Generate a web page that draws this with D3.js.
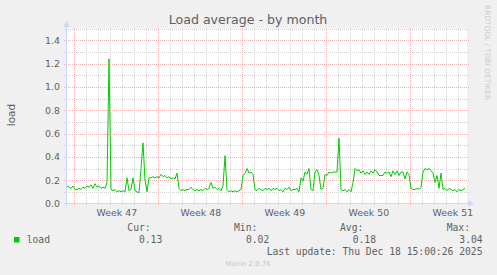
<!DOCTYPE html>
<html>
<head>
<meta charset="utf-8">
<script src="https://cdn.jsdelivr.net/npm/d3@7"></script>
<style>
  body { margin: 0; background: #f0f0f0; }
  text { font-family: "DejaVu Sans", sans-serif; fill: #606060; }
  .mono { font-family: "DejaVu Sans Mono", monospace; font-size: 9.7px; }
</style>
</head>
<body>
<div class="container"></div>
<script>
var w = 497;
var h = 275;

// load average, one sample every 4 hours
var load = [
  0.15, 0.14, 0.13, 0.15, 0.12, 0.12, 0.13, 0.12, 0.14, 0.13,
  0.15, 0.14, 0.16, 0.13, 0.17, 0.14, 0.15, 0.13, 0.14, 0.13,
  0.18, 1.24, 0.12, 0.11, 0.12, 0.10, 0.11, 0.10, 0.11, 0.10,
  0.22, 0.11, 0.12, 0.22, 0.11, 0.10, 0.09, 0.30, 0.52, 0.20,
  0.10, 0.22, 0.22, 0.23, 0.22, 0.23, 0.22, 0.25, 0.23, 0.24,
  0.22, 0.23, 0.21, 0.22, 0.21, 0.26, 0.13, 0.11, 0.12, 0.11,
  0.12, 0.12, 0.14, 0.12, 0.11, 0.12, 0.11, 0.12, 0.11, 0.13,
  0.12, 0.13, 0.18, 0.13, 0.14, 0.12, 0.13, 0.11, 0.15, 0.41,
  0.12, 0.10, 0.11, 0.10, 0.11, 0.10, 0.11, 0.12, 0.24, 0.26,
  0.30, 0.26, 0.27, 0.25, 0.12, 0.11, 0.13, 0.12, 0.11, 0.13,
  0.12, 0.13, 0.11, 0.13, 0.12, 0.13, 0.11, 0.12, 0.10, 0.13,
  0.12, 0.14, 0.11, 0.12, 0.12, 0.13, 0.10, 0.22, 0.19, 0.27,
  0.25, 0.30, 0.12, 0.11, 0.27, 0.29, 0.24, 0.12, 0.13, 0.25,
  0.24, 0.27, 0.26, 0.27, 0.27, 0.27, 0.56, 0.12, 0.11, 0.12,
  0.10, 0.12, 0.10, 0.18, 0.30, 0.28, 0.29, 0.26, 0.28, 0.25,
  0.27, 0.25, 0.28, 0.26, 0.29, 0.27, 0.24, 0.24, 0.24, 0.27,
  0.26, 0.27, 0.23, 0.28, 0.25, 0.28, 0.24, 0.27, 0.27, 0.21,
  0.27, 0.25, 0.13, 0.12, 0.12, 0.13, 0.12, 0.14, 0.27, 0.30,
  0.29, 0.30, 0.28, 0.26, 0.18, 0.24, 0.13, 0.26, 0.12, 0.13,
  0.11, 0.13, 0.12, 0.11, 0.12, 0.10, 0.12, 0.11, 0.12, 0.13
];
var yTicks = [0, 0.2, 0.4, 0.6, 0.8, 1.0, 1.2, 1.4];
var yMinor = [0.1, 0.3, 0.5, 0.7, 0.9, 1.1, 1.3, 1.5];
var weekLabels = ["Week 47", "Week 48", "Week 49", "Week 50", "Week 51"];
var legendHeads = ["Cur:", "Min:", "Avg:", "Max:"];
var legendValues = ["0.13", "0.02", "0.18", "3.04"];

var hour = 3600 * 1000;
var start = Date.UTC(2025, 10, 15, 9, 20);
var step = 4 * hour;
var end = start + 800 * hour;

var canvas = d3.select(".container").append("svg")
  .attr("width", w)
  .attr("height", h);

var x = d3.scaleUtc().domain([new Date(start), new Date(end)]).range([67, 467]);
var y = d3.scaleLinear().domain([0, 1.5]).range([203.5, 28.5]);

// plot area
canvas.append("rect")
  .attr("x", 67).attr("y", 28.5)
  .attr("width", 400).attr("height", 175)
  .attr("fill", "#fff");

var days = d3.utcDay.range(new Date(start), new Date(end));
var weeks = d3.utcSunday.range(new Date(start), new Date(end));
var px = (v) => Math.round(v) + 0.5;

//minor grid
var grid = canvas.append("g")
  .attr("stroke-dasharray", "1,1")
  .attr("shape-rendering", "crispEdges");

grid.selectAll(".vmin").data(days.filter((d) => d.getUTCDay() != 0)).enter().append("line")
  .attr("x1", (d) => px(x(d))).attr("x2", (d) => px(x(d)))
  .attr("y1", 28).attr("y2", 206)
  .attr("stroke", "#d2d2d2");

grid.selectAll(".hmin").data(yMinor).enter().append("line")
  .attr("x1", 64).attr("x2", 469)
  .attr("y1", (d) => px(y(d))).attr("y2", (d) => px(y(d)))
  .attr("stroke", "#d2d2d2");

//major grid
grid.selectAll(".vmaj").data(weeks).enter().append("line")
  .attr("x1", (d) => px(x(d))).attr("x2", (d) => px(x(d)))
  .attr("y1", 28).attr("y2", 206)
  .attr("stroke", "#eeb0b0");

grid.selectAll(".hmaj").data(yTicks.slice(1)).enter().append("line")
  .attr("x1", 64).attr("x2", 469)
  .attr("y1", (d) => px(y(d))).attr("y2", (d) => px(y(d)))
  .attr("stroke", "#eeb0b0");

// axes lines and arrows
var axisColor = "#cfd6f8";
canvas.append("line")
  .attr("x1", 64).attr("x2", 470).attr("y1", 203.5).attr("y2", 203.5)
  .attr("stroke", axisColor);
canvas.append("line")
  .attr("x1", 66.5).attr("x2", 66.5).attr("y1", 206).attr("y2", 25)
  .attr("stroke", axisColor);
canvas.append("path")
  .attr("d", "M468,200.5L474,203.5L468,206.5Z")
  .attr("fill", axisColor);
canvas.append("path")
  .attr("d", "M63.5,27L66.5,21L69.5,27Z")
  .attr("fill", axisColor);

// data line
var line = d3.line()
  .x((d, i) => x(new Date(start + i * step)))
  .y((d) => y(d));

canvas.append("path")
  .datum(load)
  .attr("d", line)
  .attr("fill", "none")
  .attr("stroke", "#00cc00")
  .attr("stroke-width", 1);

// tick labels
var yAxis = canvas.append("g")
  .attr("transform", "translate(67,0)")
  .call(d3.axisLeft(y).tickValues(yTicks).tickFormat(d3.format(".1f")).tickSize(0).tickPadding(7));

var mids = weeks.map((d) => new Date(+d + 3.5 * 24 * hour));
var xAxis = canvas.append("g")
  .attr("transform", "translate(0,203.5)")
  .call(d3.axisBottom(x).tickValues(mids).tickFormat((d, i) => weekLabels[i]).tickSize(0).tickPadding(6));

[yAxis, xAxis].forEach((g) => {
  g.select(".domain").remove();
  g.selectAll("text")
    .attr("fill", "#606060")
    .style("font-family", "DejaVu Sans")
    .style("font-size", "9.4px");
});

// title and labels
canvas.append("text")
  .attr("x", 248).attr("y", 23.5)
  .attr("text-anchor", "middle")
  .style("font-size", "12.6px")
  .text("Load average - by month");

canvas.append("text")
  .attr("transform", "translate(14.5,115) rotate(-90)")
  .attr("text-anchor", "middle")
  .style("font-size", "10.5px")
  .text("load");

canvas.append("text")
  .attr("transform", "translate(485,5) rotate(90)")
  .style("font-size", "7.4px")
  .style("fill", "#cccccc")
  .text("RRDTOOL / TOBI OETIKER");

// legend
canvas.append("rect")
  .attr("x", 14).attr("y", 237).attr("width", 5.5).attr("height", 5.5)
  .attr("fill", "#00cc00");

canvas.append("text").attr("class", "mono")
  .attr("x", 26.7).attr("y", 243.3)
  .text("load");

var headX = [127.3, 234, 340, 446.7];
var valX = [162.3, 269.3, 376, 482.7];

canvas.selectAll(".head").data(legendHeads).enter().append("text")
  .attr("class", "mono")
  .attr("x", (d, i) => headX[i]).attr("y", 231)
  .text((d) => d);

canvas.selectAll(".val").data(legendValues).enter().append("text")
  .attr("class", "mono")
  .attr("x", (d, i) => valX[i]).attr("y", 243.3)
  .attr("text-anchor", "end")
  .text((d) => d);

canvas.append("text").attr("class", "mono")
  .attr("x", 482.5).attr("y", 255)
  .attr("text-anchor", "end")
  .text("Last update: Thu Dec 18 15:00:26 2025");

canvas.append("text")
  .attr("x", 248).attr("y", 266)
  .attr("text-anchor", "middle")
  .style("font-size", "6.9px")
  .style("fill", "#c8c8c8")
  .text("Munin 2.0.76");
</script>
</body>
</html>
